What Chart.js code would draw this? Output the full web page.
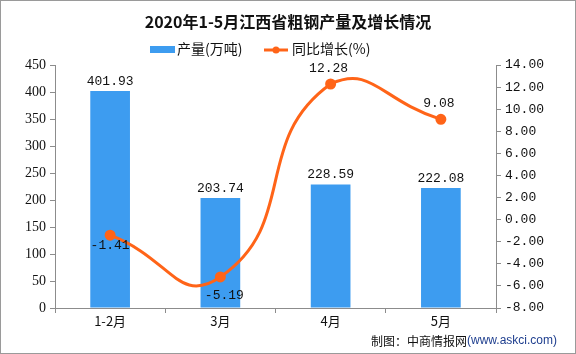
<!DOCTYPE html>
<html>
<head>
<meta charset="utf-8">
<script src="https://cdn.jsdelivr.net/npm/chart.js@4/dist/chart.umd.min.js"></script>
<style>
  html, body { margin:0; padding:0; background:#fff; }
  #wrap { position:relative; width:576px; height:354px; box-sizing:border-box; border:1px solid #9a9a9a; }
  canvas { display:block; }
</style>
</head>
<body>
<div id="wrap"><canvas id="c" width="574" height="352"></canvas></div>
<script>
/* ===== Data ===== */
const categories = ['1-2月', '3月', '4月', '5月'];
const output     = [401.93, 203.74, 228.59, 222.08];   // 产量(万吨)
const growth     = [-1.41, -5.19, 12.28, 9.08];        // 同比增长(%)
const growthLabelPos = ['below', 'below', 'above', 'above'];

const BLUE = '#3d9cf0';
const ORANGE = '#ff6418';
const AXIS = '#8c8c8c';
const TICK_FONT = { family: '"Liberation Serif", "DejaVu Serif", serif', size: 14 };
const MONO = '13px "Liberation Mono", "DejaVu Sans Mono", monospace';

/* ===== Plugins: title, legend, labels, footer ===== */
const decor = {
  id: 'decor',
  afterDraw(chart){
    const ctx = chart.ctx;
    ctx.save();
    // title
    ctx.fillStyle = '#111';
    ctx.font = 'bold 16px "Noto Sans CJK SC", sans-serif';
    ctx.textAlign = 'center'; ctx.textBaseline = 'middle';
    ctx.fillText('2020年1-5月江西省粗钢产量及增长情况', 287, 21);

    // legend
    ctx.font = '14px "Noto Sans CJK SC", sans-serif';
    ctx.textAlign = 'left';
    ctx.fillStyle = BLUE;
    ctx.fillRect(149, 45, 25, 7);
    ctx.fillStyle = '#111';
    ctx.fillText('产量(万吨)', 176, 48);
    ctx.strokeStyle = ORANGE; ctx.lineWidth = 3;
    ctx.beginPath(); ctx.moveTo(263, 49); ctx.lineTo(287, 49); ctx.stroke();
    ctx.fillStyle = ORANGE;
    ctx.beginPath(); ctx.arc(275, 49, 3.5, 0, Math.PI*2); ctx.fill();
    ctx.fillStyle = '#111';
    ctx.fillText('同比增长(%)', 291, 48);

    // bar value labels
    ctx.font = MONO;
    ctx.textAlign = 'center'; ctx.textBaseline = 'bottom';
    chart.getDatasetMeta(0).data.forEach((el, i) => {
      ctx.fillText(output[i].toFixed(2), el.x, el.y - 3);
    });
    // line value labels
    chart.getDatasetMeta(1).data.forEach((el, i) => {
      if (growthLabelPos[i] === 'above'){
        ctx.textBaseline = 'bottom';
        ctx.fillText(growth[i].toFixed(2), el.x - 2, el.y - 9);
      } else {
        ctx.textBaseline = 'top';
        ctx.fillText(growth[i].toFixed(2), el.x + (i === 1 ? 4 : 0), el.y + 4 + (i === 1 ? 8 : 0));
      }
    });

    // footer
    ctx.textBaseline = 'middle'; ctx.textAlign = 'left';
    ctx.font = '12px "Noto Sans CJK SC", sans-serif';
    ctx.fillStyle = '#111';
    const lead = '制图：中商情报网';
    ctx.fillText(lead, 370, 340);
    const w = ctx.measureText(lead).width;
    ctx.fillStyle = '#1f3f8f';
    ctx.font = '12px "Liberation Sans", sans-serif';
    ctx.fillText('(www.askci.com)', 370 + w, 340);
    ctx.restore();
  }
};

/* ===== Chart ===== */
new Chart(document.getElementById('c').getContext('2d'), {
  data: {
    labels: categories,
    datasets: [
      {
        type: 'bar', label: '产量(万吨)', data: output, yAxisID: 'y',
        backgroundColor: BLUE, barPercentage: 0.36, categoryPercentage: 1,
        order: 1
      },
      {
        type: 'line', label: '同比增长(%)', data: growth, yAxisID: 'y1',
        borderColor: ORANGE, backgroundColor: ORANGE, borderWidth: 3,
        pointRadius: 4, pointHoverRadius: 4, tension: 0.55,
        order: 0
      }
    ]
  },
  options: {
    responsive: false,
    animation: false,
    events: [],
    layout: { padding: { top: 64, bottom: 0, left: 0, right: 0 } },
    plugins: { legend: { display: false }, title: { display: false }, tooltip: { enabled: false } },
    scales: {
      x: {
        offset: true,
        grid: { display: true, drawOnChartArea: false, offset: true, tickLength: 5, color: AXIS },
        border: { color: AXIS },
        ticks: { color: '#111', font: { family: '"Noto Sans CJK SC", sans-serif', size: 13 }, padding: 0 },
        afterFit(s){ s.height = 45; }
      },
      y: {
        position: 'left', min: 0, max: 450,
        ticks: { stepSize: 50, color: '#111', font: TICK_FONT, padding: 4 },
        grid: { drawOnChartArea: false, tickLength: 5, color: AXIS },
        border: { color: AXIS },
        afterFit(s){ s.width = 54; }
      },
      y1: {
        position: 'right', min: -8, max: 14,
        ticks: { stepSize: 2, color: '#111', font: { family: '"Liberation Mono", "DejaVu Sans Mono", monospace', size: 13 },
                 padding: 4, callback: v => v.toFixed(2) },
        grid: { drawOnChartArea: false, tickLength: 5, color: AXIS },
        border: { color: AXIS },
        afterFit(s){ s.width = 79; }
      }
    }
  },
  plugins: [decor]
});
</script>
</body>
</html>
